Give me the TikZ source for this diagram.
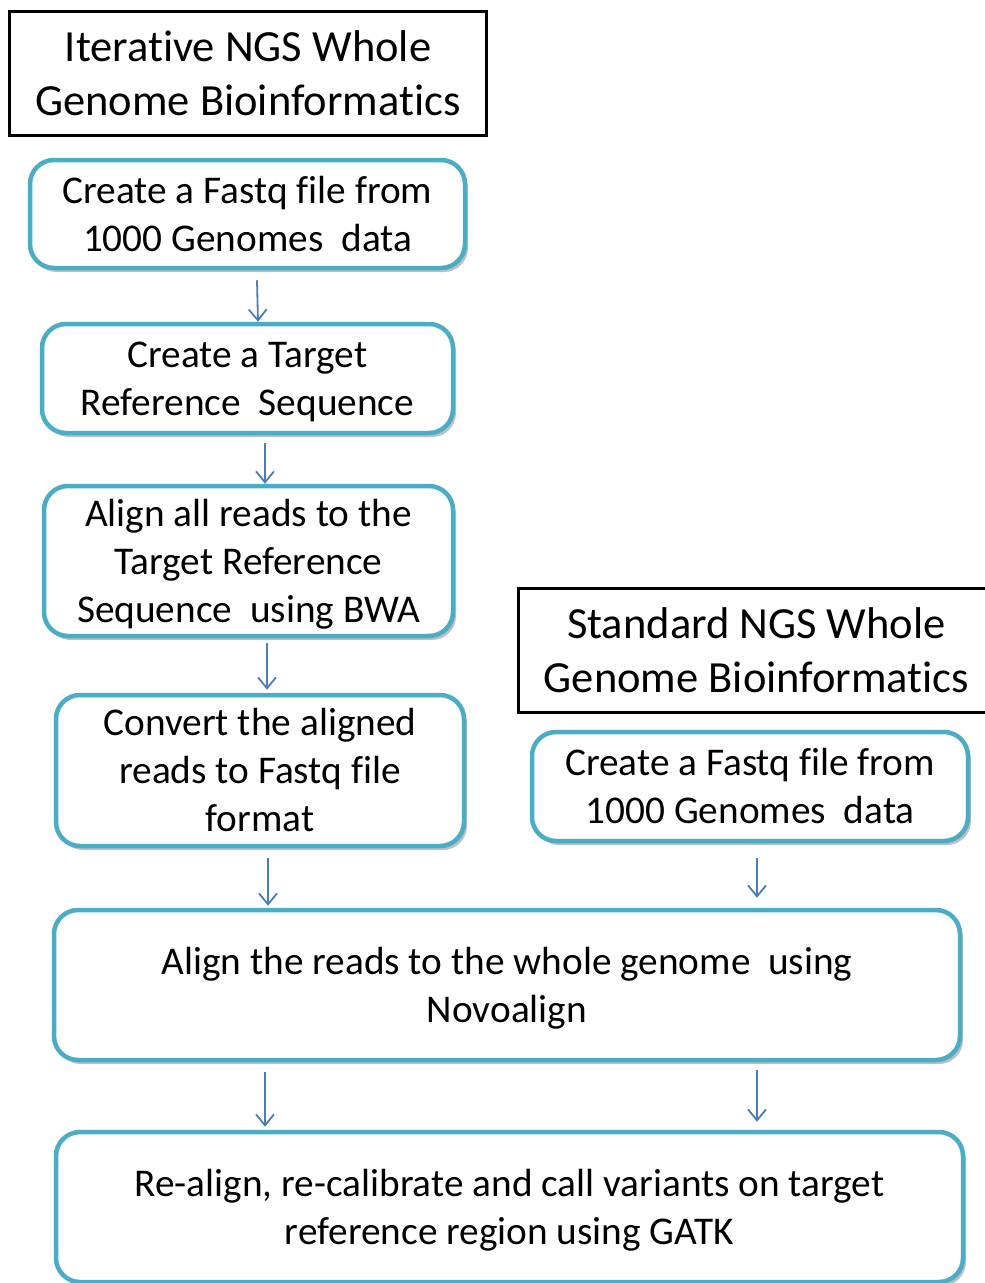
\documentclass[tikz,border=0pt]{standalone}
\usepackage{fontspec}
\setmainfont{Carlito}[Ligatures=NoCommon]
\usetikzlibrary{arrows.meta,shadows,calc}
\definecolor{boxteal}{HTML}{4BACC6}
\definecolor{arrblue}{HTML}{4A7EBB}
\newcommand{\BoxFont}{\fontsize{39.3}{48}\selectfont}
\newcommand{\HeadFont}{\fontsize{44.5}{54}\selectfont}
\newcommand{\bst}{\rule[-10.9pt]{0pt}{48pt}}
\newcommand{\hst}{\rule[-12.2pt]{0pt}{54pt}}
\begin{document}
\begin{tikzpicture}[x=1pt,y=-1pt,
  stage/.style={draw=boxteal, line width=4.5pt, rounded corners=24pt, fill=white,
    align=center, inner sep=0pt, font=\BoxFont,
    drop shadow={shadow xshift=3pt, shadow yshift=-4pt, fill=black, opacity=0.25}},
  title/.style={draw=black, line width=3.5pt, fill=white, align=center,
    inner sep=0pt, font=\HeadFont},
  arr/.style={draw=arrblue, line width=1.8pt,
    -{Straight Barb[length=11pt,width=18pt,line width=1.8pt]}}]
\useasboundingbox (0,0) rectangle (985,1283);

\node[title, minimum width=477pt, minimum height=124pt] (h1) at (248,73.5)
  {\hst Iterative NGS Whole\\\hst Genome Bioinformatics};
\node[stage, minimum width=435pt, minimum height=108pt] (b1) at (247.5,214)
  {\bst Create a Fastq file from\\\bst 1000 Genomes\ \ data};
\node[stage, minimum width=411pt, minimum height=109pt] (b2) at (247.5,378.5)
  {\bst Create a Target\\\bst Reference\ \ Sequence};
\node[stage, minimum width=409pt, minimum height=150pt] (b3) at (248.5,561)
  {\bst Align all reads to the\\\bst Target Reference\\\bst Sequence\ \ using BWA};
\node[stage, minimum width=408pt, minimum height=151pt] (b4) at (260,770.5)
  {\bst Convert the aligned\\\bst reads to Fastq file\\\bst format};
\node[title, minimum width=476pt, minimum height=124pt] (h2) at (756.5,650.5)
  {\hst Standard NGS Whole\\\hst Genome Bioinformatics};
\node[stage, minimum width=436pt, minimum height=109pt] (b5) at (750,786.5)
  {\bst Create a Fastq file from\\\bst 1000 Genomes\ \ data};
\node[stage, minimum width=906pt, minimum height=150pt] (b6) at (507,985)
  {\bst Align the reads to the whole genome\ \ using\\\bst Novoalign};
\node[stage, minimum width=907pt, minimum height=150pt] (b7) at (509.5,1207)
  {\bst Re-align, re-calibrate and call variants on target\\\bst reference region using GATK};

\draw[arr] ($(b1.south)+(9.5,10)$) -- ($(b2.north)+(10.5,0)$);
\draw[arr] ($(b2.south)+(17.5,8)$) -- ($(b3.north)+(16.5,0)$);
\draw[arr] ($(b3.south)+(18.5,5)$) -- ($(b4.north)+(7,-3)$);
\draw[arr] ($(b4.south)+(8,10)$) -- ($(b6.north)+(-239,-2)$);
\draw[arr] ($(b5.south)+(7,15)$) -- ($(b6.north)+(250,-10)$);
\draw[arr] ($(b6.south)+(-242,10)$) -- ($(b7.north)+(-244.5,-3)$);
\draw[arr] ($(b6.south)+(250,8)$) -- ($(b7.north)+(247.5,-8)$);
\end{tikzpicture}
\end{document}
